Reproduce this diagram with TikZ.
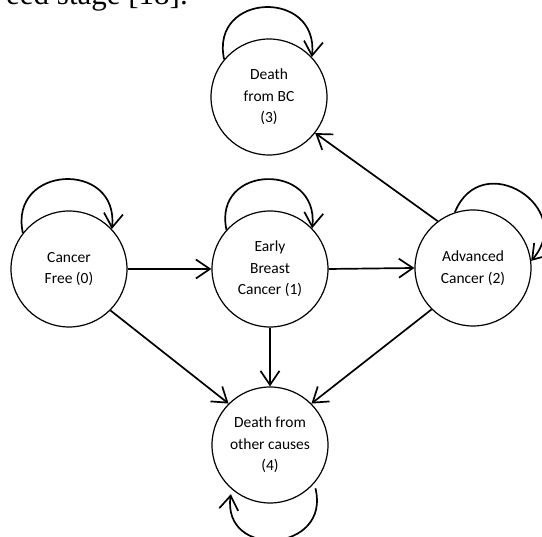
\documentclass[tikz,border=0pt]{standalone}
\usepackage{fontspec}
\usepackage{tikz}
\usetikzlibrary{arrows.meta}
\newfontfamily\labelfont{Carlito}
\newfontfamily\bodyfont{Liberation Serif}

\tikzset{
  stagenode/.style={circle, draw, line width=1.2pt, minimum size=116pt, inner sep=0pt,
    align=center, font=\labelfont\fontsize{15.5}{21.7}\selectfont},
  trans/.style={-{Straight Barb[length=14pt,width=19pt]}, line width=1.7pt},
  selfloop/.style={trans, looseness=2}
}

\begin{document}
\begin{tikzpicture}[x=1pt,y=1pt]
                    \useasboundingbox (0,0) rectangle (542,537);
                    \clip (0,0) rectangle (542,537);
                    % cut-off line of the body text above the figure
                    \node[anchor=base east, inner sep=0pt, font=\bodyfont\fontsize{31}{36}\selectfont]
                        (bodytext) at (188,532.5) {eed stage [18].};
                    % states
                    \node[stagenode] (free)     at (69,268)  {Cancer\\Free (0)};
                    \node[stagenode] (early)    at (270,268) {Early\\Breast\\Cancer (1)};
                    \node[stagenode] (advanced) at (473,269) {Advanced\\Cancer (2)};
                    \node[stagenode] (deathbc)  at (269,440) {Death\\from BC\\(3)};
                    \node[stagenode] (deathoc)  at (270,92)  {Death from\\other causes\\(4)};
                    % transitions
                    \draw[trans] (free.east) -- (early.west);
                    \draw[trans] (early.east) -- (advanced.west);
                    \draw[trans] (advanced.127) -- (deathbc.-38);
                    \draw[trans] (free.-45) -- (deathoc.135);
                    \draw[trans] (early.south) -- (deathoc.north);
                    \draw[trans] (advanced.-135) -- (deathoc.45);
                    % staying in the same state
                    \draw[selfloop] (free.142) to[out=102, in=84] (free.43);
                    \draw[selfloop] (early.138) to[out=102, in=84] (early.44);
                    \draw[selfloop] (deathbc.140) to[out=102, in=84] (deathbc.43);
                    \draw[selfloop] (advanced.108) to[out=68, in=49] (advanced.7);
                    \draw[selfloop, looseness=2.2, shorten <=5pt, shorten >=5pt]
                        (deathoc.-41) to[out=-76, in=-98] (deathoc.-131);
\end{tikzpicture}
\end{document}
